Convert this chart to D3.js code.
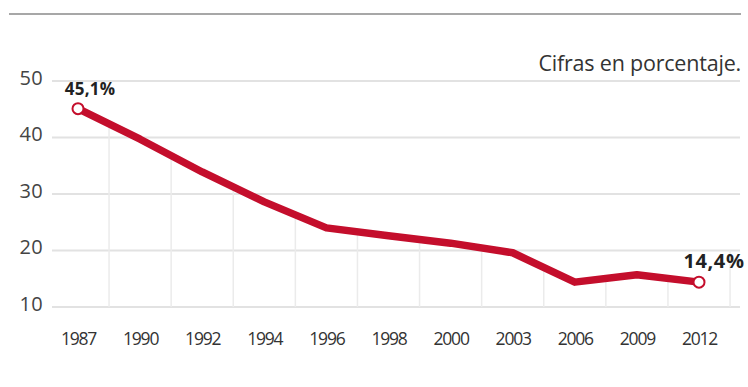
<!DOCTYPE html>
<html>
<head>
<meta charset="utf-8">
<script src="https://cdn.jsdelivr.net/npm/d3@7"></script>
<style>
  html, body { margin: 0; padding: 0; background: #fff; }
  svg { display: block; }
  text { font-family: "Open Sans", "Liberation Sans", sans-serif; }
</style>
</head>
<body>
<svg id="chart" width="748" height="387"></svg>
<script>
const years = ["1987","1990","1992","1994","1996","1998","2000","2003","2006","2009","2012"];
const values = [45.1, 39.7, 33.9, 28.6, 24.0, 22.6, 21.3, 19.6, 14.4, 15.7, 14.4];
const yTicks = [10, 20, 30, 40, 50];
const firstLabel = "45,1%";
const lastLabel = "14,4%";
const note = "Cifras en porcentaje.";

const svg = d3.select("#chart");
const red = "#c40e2c";

const x = d3.scalePoint().domain(years).range([78, 699]);
const y = d3.scaleLinear().domain([10, 50]).range([307, 81]);
const step = x.step();

// top rule
svg.append("line")
  .attr("x1", 9).attr("x2", 741).attr("y1", 14).attr("y2", 14)
  .attr("stroke", "#8a8a8a").attr("stroke-width", 1.5);

// horizontal gridlines
svg.append("g").selectAll("line").data(yTicks).join("line")
  .attr("x1", 52).attr("x2", 740)
  .attr("y1", d => y(d)).attr("y2", d => y(d))
  .attr("stroke", "#e2e2e2").attr("stroke-width", 1.8);

// vertical gridlines between years
const vData = years.map((yr, i) => ({
  x: x(yr) + step / 2,
  v: i < years.length - 1 ? (values[i] + values[i + 1]) / 2 : 20
}));
svg.append("g").selectAll("line").data(vData).join("line")
  .attr("x1", d => d.x).attr("x2", d => d.x)
  .attr("y1", d => y(d.v)).attr("y2", y(10))
  .attr("stroke", "#ebebeb").attr("stroke-width", 1.5);

// y axis labels
const yAxis = d3.axisLeft(y).tickValues(yTicks).tickSize(0).tickPadding(0);
const gy = svg.append("g").attr("transform", "translate(43,0)").call(yAxis);
gy.select(".domain").remove();
gy.selectAll("text")
  .attr("font-size", 20).attr("fill", "#444")
  .attr("font-family", "'Open Sans', sans-serif")
  .attr("letter-spacing", "0.3")
  .attr("dy", "0").attr("y", 3);

// x axis labels
const xAxis = d3.axisBottom(x).tickSize(0).tickPadding(0);
const gx = svg.append("g").attr("transform", "translate(0,330)").call(xAxis);
gx.select(".domain").remove();
gx.selectAll("text")
  .attr("font-size", 17.5).attr("fill", "#333")
  .attr("font-family", "'Open Sans', sans-serif")
  .attr("letter-spacing", "-1.2")
  .attr("dy", "0").attr("y", 15);

// line
const line = d3.line().x((d, i) => x(years[i])).y(d => y(d));
svg.append("path").datum(values)
  .attr("d", line)
  .attr("fill", "none").attr("stroke", red)
  .attr("stroke-width", 7.5)
  .attr("stroke-linejoin", "round").attr("stroke-linecap", "round");

// end circles
const ends = [0, values.length - 1];
svg.append("g").selectAll("circle").data(ends).join("circle")
  .attr("cx", i => x(years[i])).attr("cy", i => y(values[i]))
  .attr("r", 5.5).attr("fill", "#fff").attr("stroke", red).attr("stroke-width", 2);

// annotations
svg.append("text")
  .attr("x", x(years[0]) + 12).attr("y", y(values[0]) - 14)
  .attr("text-anchor", "middle")
  .attr("font-size", 17).attr("font-weight", "bold").attr("fill", "#222")
  .attr("letter-spacing", "0.2")
  .text(firstLabel);

svg.append("text")
  .attr("x", x(years[years.length - 1]) + 15).attr("y", y(values[values.length - 1]) - 14)
  .attr("text-anchor", "middle")
  .attr("font-size", 20).attr("font-weight", "bold").attr("fill", "#222")
  .attr("letter-spacing", "0.6")
  .text(lastLabel);

// note
svg.append("text")
  .attr("x", 741).attr("y", 71)
  .attr("text-anchor", "end")
  .attr("font-size", 21.5).attr("fill", "#333")
  .attr("letter-spacing", "-0.2")
  .text(note);
</script>
</body>
</html>
